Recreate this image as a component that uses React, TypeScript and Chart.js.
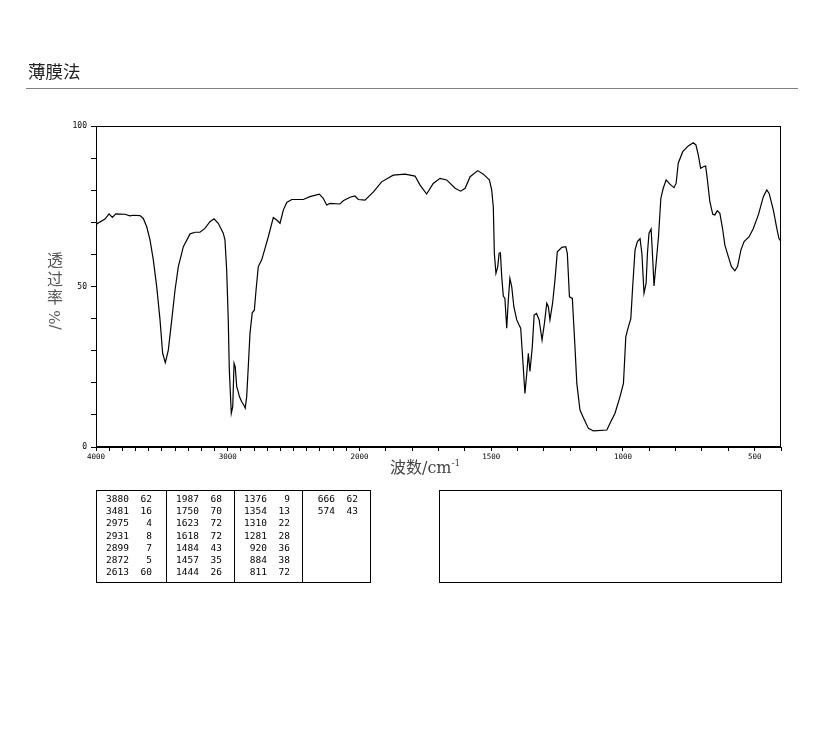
import React, { useEffect, useRef } from 'react';
import { Chart, LinearScale, registerables } from 'chart.js';

// ---------- data ----------
const wavenumbers = [
  4000, 3995, 3932, 3901, 3876, 3850, 3780, 3742, 3717, 3666, 3641, 3615, 3590, 3565, 3539, 3514,
  3494, 3474, 3451, 3425, 3400, 3375, 3337, 3286, 3248, 3211, 3173, 3135, 3104, 3072, 3034, 3021,
  3008, 2996, 2988, 2973, 2962, 2952, 2943, 2932, 2920, 2912, 2894, 2877, 2867, 2856, 2844, 2831,
  2814, 2798, 2785, 2768, 2742, 2717, 2692, 2654, 2628, 2603, 2578, 2552, 2514, 2426, 2376, 2305,
  2275, 2249, 2224, 2148, 2123, 2072, 2034, 2009, 1979, 1947, 1916, 1872, 1827, 1789, 1770, 1745,
  1720, 1694, 1669, 1637, 1616, 1599, 1580, 1551, 1530, 1507, 1498, 1492, 1488, 1482, 1475, 1470,
  1465, 1460, 1454, 1448, 1441, 1435, 1429, 1422, 1414, 1403, 1394, 1388, 1380, 1372, 1365, 1359,
  1353, 1344, 1337, 1328, 1318, 1307, 1298, 1289, 1283, 1277, 1267, 1258, 1249, 1232, 1217, 1211,
  1203, 1192, 1182, 1175, 1163, 1150, 1131, 1112, 1061, 1049, 1030, 1011, 998, 989, 979, 970,
  963, 954, 945, 935, 928, 920, 912, 907, 901, 893, 888, 882, 874, 865, 856, 847,
  836, 821, 806, 798, 790, 773, 752, 733, 723, 714, 705, 695, 686, 680, 670, 659,
  651, 642, 632, 621, 613, 600, 588, 575, 565, 552, 540, 521, 505, 486, 467, 454,
  445, 429, 417, 408, 400,
];
const transmittance = [
  69.3, 69.5, 71.0, 72.6, 71.5, 72.6, 72.5, 72.0, 72.2, 72.1, 71.2, 68.6, 64.5, 58.3, 49.9, 39.6,
  29.2, 26.3, 30.2, 39.6, 48.9, 56.2, 62.4, 66.4, 66.9, 66.9, 68.1, 70.2, 71.1, 69.7, 66.6, 64.5,
  55.1, 39.6, 24.0, 10.5, 12.6, 26.1, 25.0, 18.8, 17.2, 15.8, 14.1, 13.0, 12.1, 15.7, 25.0, 35.4,
  41.8, 42.6, 48.9, 56.2, 58.3, 61.9, 65.5, 71.5, 70.7, 69.7, 73.8, 76.2, 77.1, 77.1, 78.0, 78.8,
  77.5, 75.4, 75.9, 75.7, 76.7, 77.8, 78.2, 77.1, 76.9, 79.5, 82.6, 84.7, 85.0, 84.4, 81.6, 78.8,
  82.1, 83.7, 83.2, 80.6, 79.7, 80.6, 84.2, 86.1, 85.0, 83.2, 80.0, 74.8, 60.3, 54.1, 56.2, 60.3,
  60.5, 53.0, 47.0, 46.3, 37.0, 45.8, 52.5, 49.9, 43.7, 39.6, 38.0, 37.0, 27.1, 16.7, 22.9, 29.2,
  23.5, 31.2, 41.1, 41.6, 39.6, 33.3, 38.5, 44.8, 43.7, 39.6, 44.8, 52.0, 60.8, 62.2, 62.4, 60.3,
  46.8, 46.3, 31.2, 19.8, 11.5, 9.1, 5.8, 5.0, 5.3, 7.4, 10.5, 15.7, 19.8, 34.4, 37.5, 40.0,
  49.9, 61.4, 64.0, 64.9, 60.3, 47.9, 51.0, 60.3, 66.6, 67.9, 60.3, 50.2, 57.3, 65.5, 77.5, 80.6,
  83.2, 81.8, 80.8, 82.2, 88.4, 92.0, 93.8, 94.8, 94.1, 91.0, 86.8, 87.3, 87.5, 83.7, 76.4, 72.5,
  72.3, 73.6, 72.8, 67.6, 62.9, 59.3, 56.2, 54.9, 56.2, 61.4, 64.0, 65.5, 68.1, 72.3, 78.0, 80.1,
  79.0, 73.8, 68.6, 65.0, 64.0,
];

const xLabelValues = [4000, 3000, 2000, 1500, 1000, 500];
const X_MIN = 400;
const X_MAX = 4000;
const X_BREAK = 2000; // below this the axis is expanded 2x
const X_MINOR_STEP = 100;
const yLabelValues = [0, 50, 100];

const peakColumns: { wn: number[]; t: number[] }[] = [
  { wn: [3880, 3481, 2975, 2931, 2899, 2872, 2613], t: [62, 16, 4, 8, 7, 5, 60] },
  { wn: [1987, 1750, 1623, 1618, 1484, 1457, 1444], t: [68, 70, 72, 72, 43, 35, 26] },
  { wn: [1376, 1354, 1310, 1281, 920, 884, 811], t: [9, 13, 22, 28, 36, 38, 72] },
  { wn: [666, 574], t: [62, 43] },
];

const titleText = '薄膜法';
const yTitleChars = ['透', '过', '率'];
const yTitleTail = '/%';
const xTitleText = '波数/cm';
const xTitleSup = '-1';

// ---------- split wavenumber scale ----------
function toUnit(v: number) {
  return v >= X_BREAK ? X_MAX - v : X_MAX - X_BREAK + 2 * (X_BREAK - v);
}
const TOTAL_UNITS = toUnit(X_MIN);

class SplitScale extends LinearScale {
  static id = 'split';
  buildTicks() {
    const ticks: { value: number }[] = [];
    for (let v = X_MAX; v >= X_MIN; v -= X_MINOR_STEP) ticks.push({ value: v });
    return ticks;
  }
  getPixelForValue(value: number) {
    return this.getPixelForDecimal(toUnit(value) / TOTAL_UNITS);
  }
  getValueForPixel(pixel: number) {
    const u = this.getDecimalForPixel(pixel) * TOTAL_UNITS;
    return u <= X_MAX - X_BREAK ? X_MAX - u : X_BREAK - (u - (X_MAX - X_BREAK)) / 2;
  }
}

Chart.register(...registerables, SplitScale);

const framePlugin = {
  id: 'frame',
  afterDraw(chart: any) {
    const { ctx, chartArea } = chart;
    const l = Math.round(chartArea.left) + 0.5;
    const t = Math.round(chartArea.top) + 0.5;
    const r = Math.round(chartArea.right) - 0.5;
    const b = Math.round(chartArea.bottom) - 0.5;
    ctx.save();
    ctx.strokeStyle = '#000';
    ctx.lineWidth = 1;
    ctx.strokeRect(l, t, r - l, b - t);
    ctx.restore();
  },
};

const W = 822;
const H = 737;
const PLOT_L = 96;
const PLOT_R = 781;
const PLOT_T = 126;
const PLOT_B = 447;
const XAXIS_H = 30;

function App() {
  const ref = useRef<HTMLCanvasElement | null>(null);
  useEffect(() => {
    if (!ref.current) return;
    const chart = new Chart(ref.current, {
      type: 'line',
      data: {
        datasets: [
          {
            data: wavenumbers.map((w, i) => ({ x: w, y: transmittance[i] })),
            borderColor: '#000',
            borderWidth: 1.2,
            pointRadius: 0,
            tension: 0,
            fill: false,
          },
        ],
      },
      options: {
        responsive: false,
        animation: false,
        events: [],
        layout: {
          padding: { left: 0, right: W - PLOT_R, top: PLOT_T, bottom: H - PLOT_B - XAXIS_H },
        },
        plugins: { legend: { display: false }, tooltip: { enabled: false }, title: { display: false } },
        scales: {
          x: {
            type: 'split' as any,
            min: X_MIN,
            max: X_MAX,
            afterFit: (s: any) => { s.height = XAXIS_H; },
            grid: { display: true, drawOnChartArea: false, drawTicks: true, tickLength: 4, color: '#000', tickColor: '#000' },
            border: { display: true, color: '#000', width: 1 },
            ticks: {
              autoSkip: false,
              maxRotation: 0,
              minRotation: 0,
              padding: 2,
              color: '#000',
              font: { family: 'DejaVu Sans Mono', size: 7.5 },
              callback: (v: any) => (xLabelValues.includes(Number(v)) ? String(v) : ''),
            },
          },
          y: {
            type: 'linear',
            min: 0,
            max: 100,
            afterFit: (s: any) => { s.width = PLOT_L; },
            grid: { display: true, drawOnChartArea: false, drawTicks: true, tickLength: 5, color: '#000', tickColor: '#000' },
            border: { display: true, color: '#000', width: 1 },
            ticks: {
              stepSize: 10,
              autoSkip: false,
              padding: 4,
              color: '#000',
              font: { family: 'DejaVu Sans Mono', size: 8 },
              callback: (v: any) => (yLabelValues.includes(Number(v)) ? String(v) : ''),
            },
          },
        },
      },
      plugins: [framePlugin],
    });
    return () => chart.destroy();
  }, []);

  const colLefts = [96, 166, 234, 302];
  const rowTop0 = 493;
  const rowStep = 12.2;
  const mono = '"DejaVu Sans Mono", monospace';

  return (
    <div style={{ position: 'absolute', left: 0, top: 0, width: W, height: H, background: '#fff', overflow: 'hidden' }}>
      <canvas ref={ref} width={W} height={H} style={{ position: 'absolute', left: 0, top: 0, width: W, height: H }} />
      {/* title */}
      <div style={{ position: 'absolute', left: 28, top: 60, fontFamily: '"Noto Sans CJK SC"', fontSize: 17.5, lineHeight: '22px', color: '#222' }}>
        {titleText}
      </div>
      <div style={{ position: 'absolute', left: 26, top: 88, width: 772, height: 1, background: '#808080' }} />
      {/* y title */}
      {yTitleChars.map((c, i) => (
        <div key={c} style={{ position: 'absolute', left: 46, top: 250 + i * 18.5, width: 18, textAlign: 'center', fontFamily: '"Noto Sans CJK SC"', fontSize: 16, lineHeight: '19px', color: '#555' }}>
          {c}
        </div>
      ))}
      <div style={{ position: 'absolute', left: 55, top: 320, width: 0, height: 0 }}>
        <div style={{ position: 'absolute', left: -15, top: -9, width: 30, textAlign: 'center', transform: 'rotate(-90deg)', fontFamily: '"DejaVu Serif", serif', fontSize: 15, lineHeight: '18px', color: '#555' }}>
          {yTitleTail}
        </div>
      </div>
      {/* x title */}
      <div style={{ position: 'absolute', left: 390, top: 457, fontFamily: '"DejaVu Serif", "Noto Sans CJK SC"', fontSize: 16, lineHeight: '22px', color: '#444', whiteSpace: 'nowrap' }}>
        {xTitleText}
        <span style={{ fontSize: 9, position: 'relative', top: -7 }}>{xTitleSup}</span>
      </div>
      {/* peak table */}
      <div style={{ position: 'absolute', left: 96, top: 490, width: 275, height: 93, border: '1px solid #000', boxSizing: 'border-box' }} />
      {colLefts.slice(1).map((x) => (
        <div key={x} style={{ position: 'absolute', left: x, top: 490, width: 1, height: 93, background: '#000' }} />
      ))}
      {peakColumns.map((col, ci) =>
        col.wn.map((w, ri) => (
          <React.Fragment key={`${ci}-${ri}`}>
            <div style={{ position: 'absolute', left: colLefts[ci], width: 33, top: rowTop0 + ri * rowStep, textAlign: 'right', fontFamily: mono, fontSize: 9.5, lineHeight: '12px', color: '#000' }}>
              {w}
            </div>
            <div style={{ position: 'absolute', left: colLefts[ci], width: 56, top: rowTop0 + ri * rowStep, textAlign: 'right', fontFamily: mono, fontSize: 9.5, lineHeight: '12px', color: '#000' }}>
              {col.t[ri]}
            </div>
          </React.Fragment>
        ))
      )}
      <div style={{ position: 'absolute', left: 439, top: 490, width: 343, height: 93, border: '1px solid #000', boxSizing: 'border-box' }} />
    </div>
  );
}

export default App;
